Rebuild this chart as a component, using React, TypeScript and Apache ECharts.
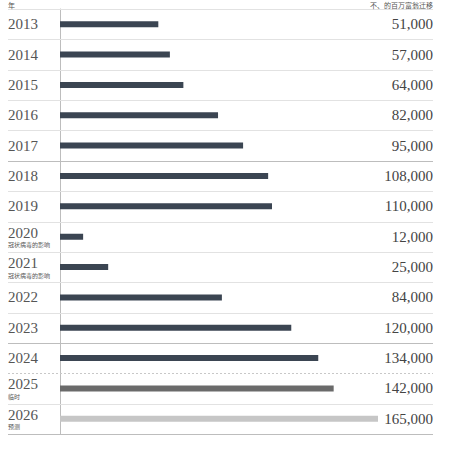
import React, { useEffect, useRef } from "react";
import * as echarts from "echarts";

const years = ["2013", "2014", "2015", "2016", "2017", "2018", "2019", "2020", "2021", "2022", "2023", "2024", "2025", "2026"];
const notes = ["", "", "", "", "", "", "", "冠状病毒的影响", "冠状病毒的影响", "", "", "", "临时", "预测"];
const values = [51000, 57000, 64000, 82000, 95000, 108000, 110000, 12000, 25000, 84000, 120000, 134000, 142000, 165000];
const barColors = ["#3b4552", "#3b4552", "#3b4552", "#3b4552", "#3b4552", "#3b4552", "#3b4552", "#3b4552", "#3b4552", "#3b4552", "#3b4552", "#3b4552", "#6a6a6a", "#c6c6c6"];
// separator kind for each boundary (0 = top of first row ... 14 = bottom of last row)
const separatorKinds = ["light", "light", "light", "light", "light", "dark", "light", "light", "light", "light", "light", "dark", "dotted", "light", "dark"];
const headerLeft = "年";
const headerRight = "不、的百万富翁迁移";

const fmt = (v: number) => v.toLocaleString("en-US");

export default function App() {
  const ref = useRef<HTMLDivElement>(null);
  useEffect(() => {
    const chart = echarts.init(ref.current!, undefined, { renderer: "svg" });
    const sepData = separatorKinds.map((k, i) => [0, Math.min(i, years.length - 1), i < years.length ? -1 : 1, i]);
    chart.setOption({
      animation: false,
      grid: { left: 60, right: 72, top: 9, bottom: 23, containLabel: false },
      xAxis: { type: "value", min: 0, max: 165000, show: false },
      yAxis: [
        {
          type: "category",
          data: years,
          inverse: true,
          position: "left",
          axisLine: { show: true, lineStyle: { color: "#bdbdbd", width: 1 } },
          axisTick: { show: false },
          splitLine: { show: false },
          axisLabel: {
            align: "left",
            margin: 52,
            formatter: (v: string, i: number) => (notes[i] ? `{y|${v}}\n{s|${notes[i]}}` : `{y|${v}}`),
            rich: {
              y: { fontFamily: "Liberation Serif", fontSize: 15, color: "#555", lineHeight: 16 },
              s: { fontFamily: "Noto Sans CJK SC", fontSize: 6, color: "#555", lineHeight: 8 },
            },
          },
        },
        {
          type: "category",
          data: years,
          inverse: true,
          position: "right",
          axisLine: { show: false },
          axisTick: { show: false },
          splitLine: { show: false },
          axisLabel: {
            align: "right",
            margin: 55,
            fontFamily: "Liberation Serif",
            fontSize: 15,
            color: "#444",
            formatter: (_v: string, i: number) => fmt(values[i]),
          },
        },
      ],
      graphic: [
        { type: "text", x: 8, y: 1, z: 10, style: { text: headerLeft, fontSize: 7, fill: "#555", fontFamily: "Noto Sans CJK SC", align: "left", verticalAlign: "top" } },
        { type: "text", x: 433, y: 1, z: 10, style: { text: headerRight, fontSize: 7, fill: "#555", fontFamily: "Noto Sans CJK SC", align: "right", verticalAlign: "top" } },
      ],
      series: [
        {
          type: "custom",
          z: 1,
          silent: true,
          clip: false,
          data: sepData,
          encode: { x: 0, y: 1 },
          renderItem: (_params: any, api: any) => {
            const c = api.coord([0, api.value(1)]);
            const band = api.size([0, 1])[1];
            const y = Math.round(c[1] + api.value(2) * band / 2) + 0.5;
            const kind = separatorKinds[api.value(3)];
            return {
              type: "line",
              shape: { x1: 8, y1: y, x2: 433, y2: y },
              style: {
                stroke: kind === "dark" ? "#bdbdbd" : kind === "dotted" ? "#c8c8c8" : "#e2e2e2",
                lineWidth: 1,
                lineDash: kind === "dotted" ? [2, 2] : null,
              },
            };
          },
        },
        {
          type: "bar",
          z: 2,
          yAxisIndex: 0,
          barWidth: 6,
          data: values.map((v, i) => ({ value: v, itemStyle: { color: barColors[i] } })),
        },
      ],
    });
    return () => chart.dispose();
  }, []);
  return <div ref={ref} style={{ position: "absolute", left: 0, top: 0, width: 450, height: 457 }} />;
}
